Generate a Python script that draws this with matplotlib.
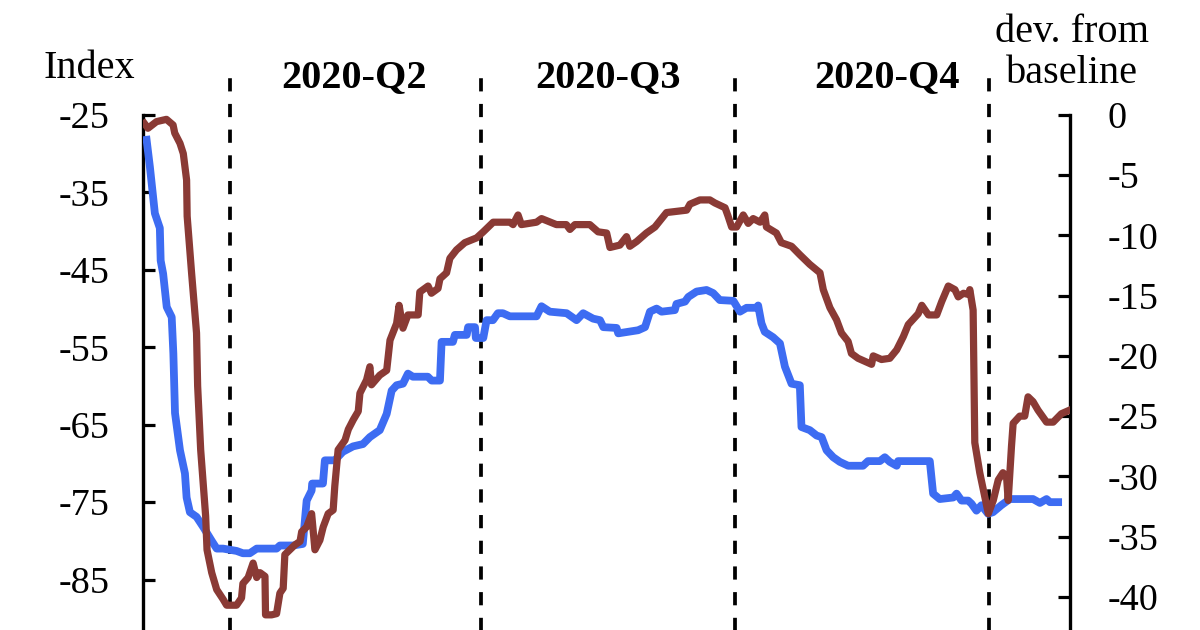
import numpy as np
import pandas as pd
import matplotlib
matplotlib.use("Agg")
import matplotlib.pyplot as plt
import matplotlib.transforms as mtransforms

plt.rcParams['font.family'] = ['Liberation Serif', 'DejaVu Serif']
plt.rcParams['axes.unicode_minus'] = False
plt.rcParams['lines.scale_dashes'] = False

start_date = pd.Timestamp('2020-03-01')
quarter_starts = ['2020-04-01', '2020-07-01', '2020-10-01', '2021-01-01']
quarter_labels = ['2020-Q2', '2020-Q3', '2020-Q4']
quarter_label_dates = ['2020-05-16', '2020-08-16', '2020-11-25']

# Index (left axis, blue) - days since 1 Mar 2020
index_days = [0.8, 2.0, 3.8, 5.6, 5.9, 6.8, 8.1, 9.9, 10.5, 11.1,
              12.9, 14.7, 15.3, 16.5, 18.9, 21.3, 24.4, 26.2, 28.5, 33.4,
              35.7, 38.2, 40.7, 47.9, 49.1, 53.8, 57.4, 58.8, 60.6, 60.8,
              64.7, 65.4, 69.0, 71.9, 75.6, 79.2, 81.7, 85.3, 87.8, 89.6,
              91.4, 93.7, 95.5, 97.3, 102.7, 104.1, 107.1, 107.7, 111.8, 112.5,
              116.8, 117.3, 119.8, 120.1, 122.8, 124.0, 126.3, 128.1, 129.9, 132.4,
              142.1, 143.9, 146.9, 153.0, 156.6, 159.0, 162.6, 165.1, 166.3, 171.1,
              171.7, 178.9, 181.4, 183.2, 185.6, 187.4, 192.2, 192.8, 195.9, 197.1,
              200.1, 203.7, 206.1, 208.5, 213.4, 215.8, 218.2, 221.8, 222.4, 223.6,
              224.8, 227.8, 230.3, 232.1, 234.5, 237.5, 238.1, 241.1, 243.6, 245.4,
              247.2, 249.6, 252.0, 255.0, 260.4, 262.2, 266.5, 268.3, 270.1, 272.6,
              273.1, 284.6, 285.8, 288.2, 293.1, 294.3, 296.1, 298.5, 299.7, 301.5,
              303.3, 305.7, 307.5, 310.5, 313.6, 322.0, 324.5, 326.9, 328.1, 331.1]
index_vals = [-28.2, -31.7, -37.7, -39.6, -43.8, -45.5, -49.8, -51.1, -55.8, -63.5,
              -68.3, -71.3, -74.4, -76.3, -76.9, -78.2, -80.0, -81.0, -81.0, -81.3,
              -81.6, -81.6, -81.0, -81.0, -80.6, -80.6, -80.4, -74.8, -73.5, -72.6,
              -72.6, -69.6, -69.6, -68.5, -67.8, -67.5, -66.6, -65.7, -63.6, -60.6,
              -59.9, -59.7, -58.4, -58.8, -58.8, -59.3, -59.3, -54.3, -54.3, -53.4,
              -53.4, -52.4, -52.4, -53.8, -53.8, -51.5, -51.5, -50.6, -50.6, -51.0,
              -51.0, -49.7, -50.4, -50.6, -51.5, -50.6, -51.3, -51.5, -52.4, -52.5,
              -53.2, -52.8, -52.4, -50.4, -50.0, -50.4, -50.2, -49.4, -49.1, -48.5,
              -47.8, -47.6, -48.0, -48.9, -49.0, -50.4, -49.9, -49.9, -49.6, -51.9,
              -53.0, -53.7, -54.5, -57.5, -59.7, -59.9, -65.3, -65.7, -66.4, -66.6,
              -68.3, -69.2, -69.8, -70.3, -70.3, -69.7, -69.7, -69.2, -69.8, -70.3,
              -69.7, -69.7, -73.9, -74.6, -74.4, -73.9, -74.8, -74.8, -75.2, -76.1,
              -75.4, -76.5, -76.3, -75.4, -74.6, -74.6, -75.1, -74.6, -75.0, -75.0]

# Deviation from baseline (right axis, brown) - days since 1 Mar 2020
dev_days = [0.0, 1.3, 4.4, 8.0, 10.4, 11.0, 12.9, 14.1, 15.3, 15.5,
            17.1, 18.9, 19.3, 20.4, 22.2, 22.7, 24.4, 26.2, 28.5, 29.8,
            33.4, 35.2, 35.7, 37.6, 39.4, 40.7, 41.9, 43.7, 43.9, 46.1,
            47.9, 49.1, 50.3, 50.9, 54.5, 56.4, 57.0, 58.8, 60.6, 61.8,
            63.6, 64.8, 66.6, 68.4, 69.0, 70.2, 72.7, 73.9, 75.7, 77.5,
            78.1, 80.5, 81.7, 82.3, 85.3, 87.8, 89.0, 91.4, 92.3, 93.7,
            95.5, 99.2, 99.8, 102.8, 104.0, 106.4, 107.1, 109.5, 110.7, 113.1,
            116.1, 120.4, 122.8, 126.4, 132.4, 133.6, 135.4, 136.6, 142.1, 143.9,
            149.3, 152.9, 154.2, 156.0, 161.4, 164.4, 167.5, 168.7, 172.3, 174.7,
            175.9, 178.4, 181.9, 185.0, 189.2, 196.5, 197.7, 201.3, 204.9, 206.7,
            210.4, 211.5, 212.8, 214.6, 217.0, 218.8, 220.6, 223.1, 224.8, 225.4,
            229.0, 230.8, 234.5, 237.5, 241.1, 244.8, 246.0, 248.4, 250.8, 252.6,
            255.0, 256.2, 258.6, 261.5, 263.5, 264.1, 267.1, 270.1, 272.6, 275.0,
            276.8, 280.4, 281.7, 284.1, 287.1, 288.9, 291.3, 293.7, 294.9, 296.8,
            298.6, 299.1, 300.3, 300.9, 302.7, 305.8, 307.6, 309.4, 311.1, 312.4,
            313.0, 314.2, 314.8, 317.2, 319.0, 320.2, 322.0, 323.8, 326.9, 329.3,
            332.3, 335.3]
dev_vals = [-0.7, -1.1, -0.55, -0.36, -0.83, -1.5, -2.35, -3.2, -5.4, -8.4,
            -13.1, -18.1, -22.5, -27.8, -33.3, -36.1, -38.0, -39.4, -40.2, -40.7,
            -40.7, -40.1, -38.9, -38.4, -37.2, -38.4, -38.0, -38.3, -41.5, -41.5,
            -41.4, -39.7, -39.3, -36.5, -35.7, -35.4, -34.6, -34.2, -33.1, -36.1,
            -35.3, -34.2, -33.1, -32.8, -30.8, -27.8, -27.0, -26.1, -25.3, -24.6,
            -23.1, -22.0, -20.9, -22.4, -21.6, -21.2, -18.7, -17.3, -15.8, -17.7,
            -16.6, -16.6, -14.7, -14.2, -14.8, -14.4, -13.6, -13.1, -11.9, -11.2,
            -10.6, -10.2, -9.7, -8.9, -8.9, -9.1, -8.3, -9.1, -8.9, -8.6,
            -9.1, -9.1, -9.5, -9.1, -9.1, -9.7, -9.8, -11.0, -10.8, -10.1,
            -10.9, -10.5, -9.8, -9.3, -8.1, -7.9, -7.4, -7.05, -7.05, -7.3,
            -7.7, -8.4, -9.3, -9.3, -8.3, -9.0, -8.6, -8.9, -8.3, -9.3,
            -9.8, -10.6, -10.9, -11.6, -12.4, -13.1, -14.5, -16.0, -17.0, -18.1,
            -18.8, -19.8, -20.2, -20.5, -20.7, -20.0, -20.3, -20.2, -19.5, -18.4,
            -17.4, -16.5, -15.8, -16.6, -16.6, -15.5, -14.2, -14.5, -15.1, -14.8,
            -14.9, -14.5, -16.2, -27.2, -29.7, -33.1, -32.0, -30.3, -29.7, -30.0,
            -32.0, -27.5, -25.6, -25.0, -25.0, -23.4, -23.8, -24.5, -25.5, -25.5,
            -24.8, -24.5]

left_ticks = [-85, -75, -65, -55, -45, -35, -25]
right_ticks = [-40, -35, -30, -25, -20, -15, -10, -5, 0]

BLUE = '#3D6CF2'
BROWN = '#8A3A35'

idx_x = start_date + pd.to_timedelta(index_days, unit='D')
dev_x = start_date + pd.to_timedelta(dev_days, unit='D')

fig = plt.figure(figsize=(12, 6.3), dpi=100)
W, H = 1200, 630
left_px, right_px, top_px, bottom_px = 143, 1070, 115, 657
ax = fig.add_axes([left_px / W, (H - bottom_px) / H,
                   (right_px - left_px) / W, (bottom_px - top_px) / H])
ax2 = ax.twinx()

for q in quarter_starts:
    ax.axvline(pd.Timestamp(q), ymin=-0.1, ymax=1.08, color='black', lw=2.7,
               linestyle=(0, (9.5, 9.0)), clip_on=False, zorder=1)

ax.plot(idx_x, index_vals, color=BLUE, lw=5.6, solid_joinstyle='round', zorder=3)
ax2.plot(dev_x, dev_vals, color=BROWN, lw=5.2, solid_joinstyle='round', zorder=3)

ax.set_xlim(start_date - pd.Timedelta(hours=12), start_date + pd.Timedelta(days=335.4))
ax.set_ylim(-95, -25)
ax2.set_ylim(-45, 0)
ax.set_yticks(left_ticks)
ax.set_yticklabels([str(t) for t in left_ticks])
ax2.set_yticks(right_ticks)
ax2.set_yticklabels([str(t) for t in right_ticks])

for a in (ax, ax2):
    for s in ('top', 'bottom'):
        a.spines[s].set_visible(False)
    a.spines['left'].set_linewidth(2.4)
    a.spines['right'].set_linewidth(2.4)
    a.set_xticks([])
ax.spines['right'].set_visible(False)
ax2.spines['left'].set_visible(False)
ax.tick_params(axis='y', direction='in', length=8.5, width=2.3, labelsize=27.5, pad=24)
ax2.tick_params(axis='y', direction='in', length=8.5, width=2.3, labelsize=27.5, pad=27)

qtrans = mtransforms.blended_transform_factory(ax.transData, fig.transFigure)
for lbl, d in zip(quarter_labels, quarter_label_dates):
    ax.text(pd.Timestamp(d), 1 - 87 / H, lbl, fontsize=29, fontweight='bold',
            ha='center', va='baseline', transform=qtrans)

fig.text(89 / W, 1 - 77.5 / H, 'Index', fontsize=29, ha='center', va='baseline')
fig.text(1072 / W, 1 - 41.5 / H, 'dev. from', fontsize=29, ha='center', va='baseline')
fig.text(1072 / W, 1 - 83 / H, 'baseline', fontsize=29, ha='center', va='baseline')

fig.savefig('out.png', dpi=100)
